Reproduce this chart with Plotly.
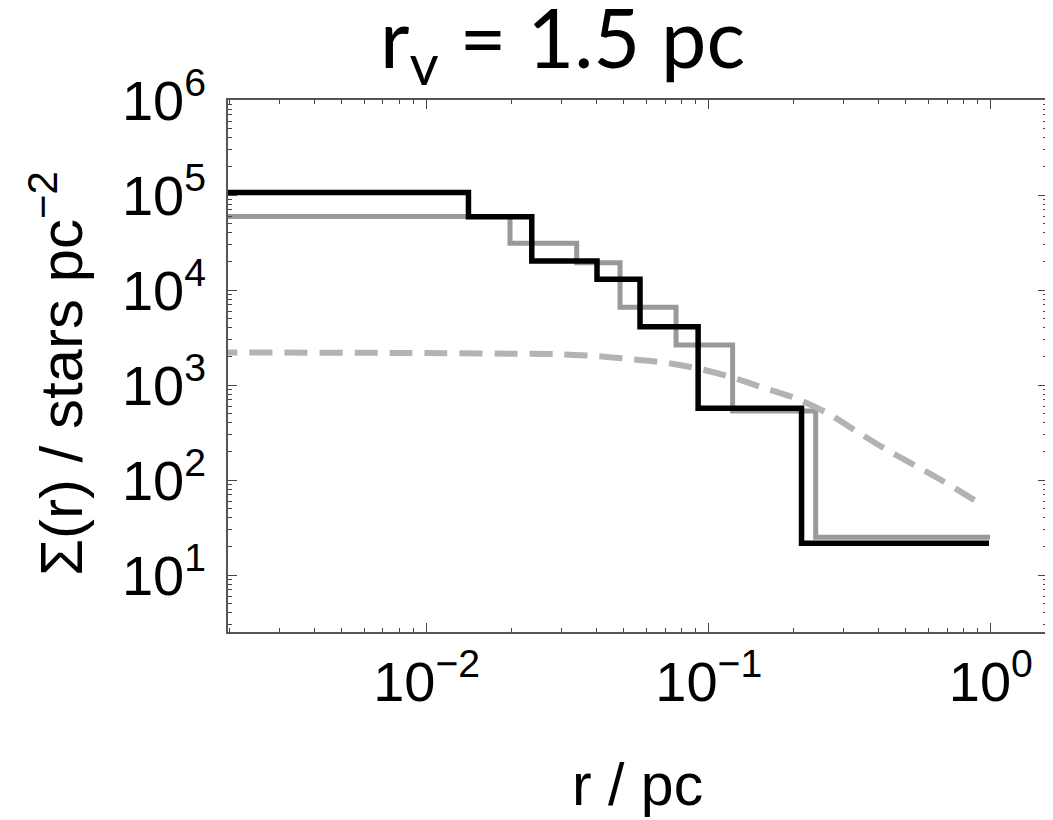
import plotly.graph_objects as go

# ---- data ----
black_edges = [0.001, 0.01407, 0.02359, 0.04018, 0.05707, 0.0917, 0.2133, 0.985]
black_vals = [1.06e5, 5.91e4, 2.02e4, 1.297e4, 4110, 569, 21.6]

gray_edges = [0.001, 0.01975, 0.03404, 0.04849, 0.0766, 0.1215, 0.2394, 0.993]
gray_vals = [5.95e4, 3.10e4, 1.94e4, 6570, 2636, 532, 24.9]

dash_r = [0.001, 0.00198, 0.00805, 0.0300, 0.0395, 0.0522, 0.0683, 0.0909,
          0.119, 0.1545, 0.2023, 0.265, 0.327, 0.415, 0.526, 0.666, 0.93]
dash_s = [2200, 2198, 2175, 2105, 2020, 1880, 1735, 1500,
          1222, 946, 730, 501, 339, 219, 148, 100, 55]

x_tickvals = [0.01, 0.1, 1]
x_ticktext = ["10<sup>−2</sup>", "10<sup>−1</sup>", "10<sup>0</sup>"]
y_tickvals = [10, 100, 1e3, 1e4, 1e5, 1e6]
y_ticktext = ["10<sup>1</sup>", "10<sup>2</sup>", "10<sup>3</sup>",
              "10<sup>4</sup>", "10<sup>5</sup>", "10<sup>6</sup>"]

title_text = "r<sub>v</sub> = 1.5 pc"
x_title = "r / pc"
y_title = "Σ(r) / stars pc<sup>−2</sup>"

# minor tick positions (2..9 in each decade)
x_minor = [m * 10.0 ** e for e in (-3, -2, -1, 0) for m in range(2, 10)]
y_minor = [m * 10.0 ** e for e in (0, 1, 2, 3, 4, 5) for m in range(2, 10)]

# ---- figure ----
fig = go.Figure()
fig.add_trace(go.Scatter(
    x=gray_edges, y=gray_vals + [gray_vals[-1]], mode="lines",
    line=dict(color="#999999", width=5, shape="hv"), showlegend=False))
fig.add_trace(go.Scatter(
    x=black_edges, y=black_vals + [black_vals[-1]], mode="lines",
    line=dict(color="#000000", width=5.5, shape="hv"), showlegend=False))
fig.add_trace(go.Scatter(
    x=dash_r, y=dash_s, mode="lines",
    line=dict(color="#b3b3b3", width=6, dash="23px,12px", shape="spline", smoothing=0.6),
    showlegend=False))

tick_font = dict(family="Liberation Sans, Arial, sans-serif", size=56, color="black")
axis_common = dict(
    showgrid=False, zeroline=False, showline=True, linecolor="#555555", linewidth=1.5,
    mirror="ticks", ticks="inside", ticklen=9, tickwidth=1.2, tickcolor="#444444",
    tickfont=tick_font, automargin=False,
)

fig.update_xaxes(type="log", range=[-2.704, 0.199], tickvals=x_tickvals,
                 ticktext=x_ticktext, ticklabelstandoff=0,
                 minor=dict(tickmode="array", tickvals=x_minor, ticks="inside", ticklen=4,
                            tickwidth=1, tickcolor="#444444", showgrid=False),
                 **axis_common)
fig.update_yaxes(type="log", range=[0.4, 6], tickvals=y_tickvals,
                 ticktext=y_ticktext, ticklabelstandoff=9,
                 minor=dict(tickmode="array", tickvals=y_minor, ticks="inside", ticklen=4,
                            tickwidth=1, tickcolor="#444444", showgrid=False),
                 **axis_common)

# the page body adds an 8px offset, so the figure is 8px smaller on each side
fig.update_layout(
    width=1045, height=812,
    margin=dict(l=220, r=6, t=92, b=188, autoexpand=False),
    plot_bgcolor="white", paper_bgcolor="white",
    annotations=[
        dict(text=title_text, xref="paper", yref="paper", x=0.409, y=1.108,
             showarrow=False, xanchor="center", yanchor="middle",
             font=dict(family="Lato, sans-serif", size=81, color="black")),
        dict(text=x_title, xref="paper", yref="paper", x=0.5, y=-0.287,
             showarrow=False, xanchor="center", yanchor="middle",
             font=dict(family="Liberation Sans, Arial, sans-serif", size=59, color="black")),
        dict(text=y_title, xref="paper", yref="paper", x=-0.208, y=0.486,
             showarrow=False, xanchor="center", yanchor="middle", textangle=-90,
             font=dict(family="Liberation Sans, Arial, sans-serif", size=60, color="black")),
    ],
)

fig.write_html("out.html")
